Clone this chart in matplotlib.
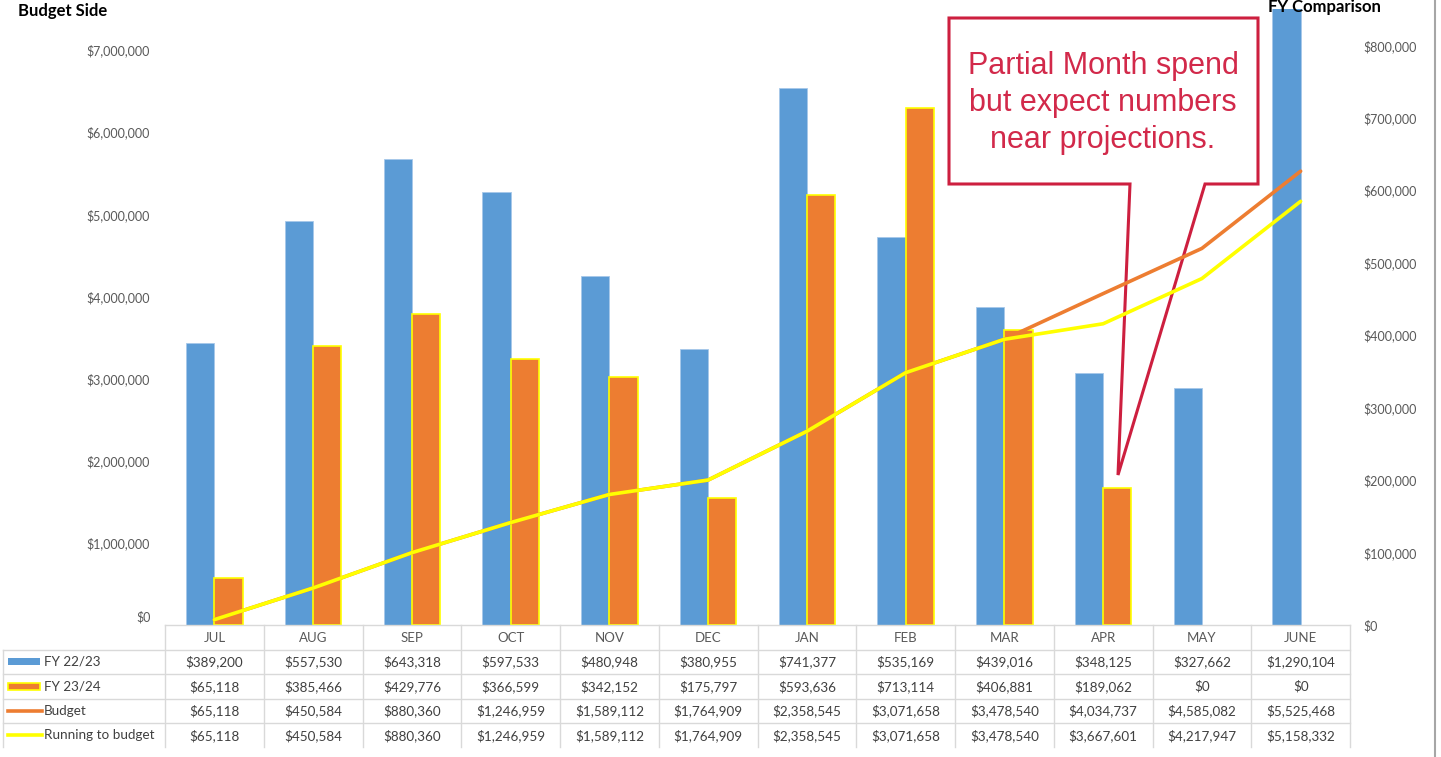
import matplotlib
matplotlib.use("Agg")
import matplotlib.pyplot as plt
from matplotlib.patches import Rectangle, Polygon
from matplotlib.lines import Line2D
from matplotlib.ticker import FuncFormatter

# ---------------- data ----------------
months = ["JUL", "AUG", "SEP", "OCT", "NOV", "DEC", "JAN", "FEB", "MAR", "APR", "MAY", "JUNE"]
fy2223 = [389200, 557530, 643318, 597533, 480948, 380955, 741377, 535169, 439016, 348125, 327662, 1290104]
fy2324 = [65118, 385466, 429776, 366599, 342152, 175797, 593636, 713114, 406881, 189062, 0, 0]
budget = [65118, 450584, 880360, 1246959, 1589112, 1764909, 2358545, 3071658, 3478540, 4034737, 4585082, 5525468]
running = [65118, 450584, 880360, 1246959, 1589112, 1764909, 2358545, 3071658, 3478540, 3667601, 4217947, 5158332]
series_names = ["FY 22/23", "FY 23/24", "Budget", "Running to budget"]
left_ticks = [1000000, 2000000, 3000000, 4000000, 5000000, 6000000, 7000000]
right_ticks = [0, 100000, 200000, 300000, 400000, 500000, 600000, 700000, 800000]
callout_text = "Partial Month spend\nbut expect numbers\nnear projections."

BLUE = "#5B9BD5"
ORANGE = "#ED7D31"
YELLOW = "#FFFF00"
GRID = "#D9D9D9"
TICK = "#595959"
TXT = "#404040"
RED = "#CD1F3F"

plt.rcParams["font.family"] = ["Lato", "DejaVu Sans"]

W, H = 1441, 757
fig = plt.figure(figsize=(W / 100, H / 100), dpi=100)

# plot area in pixels
PL, PR, PT, PB = 165, 1350, 9, 625
ax = fig.add_axes([PL / W, (H - PB) / H, (PR - PL) / W, (PB - PT) / H])
ax2 = ax.twinx()

n = len(months)
x = list(range(n))
bw = 0.285

# bars on the right axis
ax2.bar([i - bw / 2 for i in x], fy2223, width=bw, color=BLUE, edgecolor="#A7C8EA", linewidth=0.6, zorder=2)
ax2.bar([i + bw / 2 for i in x], fy2324, width=bw, color=ORANGE, edgecolor=YELLOW,
        linewidth=[1.2 if v > 0 else 0 for v in fy2324], zorder=2)
ax2.set_ylim(0, 850000)
ax2.set_yticks(right_ticks)
ax2.yaxis.set_major_formatter(FuncFormatter(lambda v, p: f"${v:,.0f}"))
ax2.tick_params(axis="y", length=0, pad=9.5, labelsize=9, labelcolor=TICK)

# lines on the left axis
ax.set_zorder(ax2.get_zorder() + 1)
ax.patch.set_visible(False)
ax.plot(x, budget, color=ORANGE, lw=2.6, solid_capstyle="round", zorder=3)
ax.plot(x, running, color=YELLOW, lw=2.6, solid_capstyle="round", zorder=4)
ax.set_ylim(0, 7500000)
ax.set_yticks(left_ticks)
ax.yaxis.set_major_formatter(FuncFormatter(lambda v, p: f"${v:,.0f}"))
ax.tick_params(axis="y", length=0, pad=11, labelsize=9, labelcolor=TICK)
ax.set_xlim(-0.5, n - 0.5)
for a in (ax, ax2):
    for s in a.spines.values():
        s.set_visible(False)
    a.set_xticks([])

# left "$0" label (Excel nudges it upward)
fig.text(151 / W, 1 - 617 / H, "$0", ha="right", va="center", fontsize=9, color=TICK)

# axis titles
fig.text(18 / W, 1 - 11 / H, "Budget Side", ha="left", va="center", fontsize=12,
         fontweight="bold", color="black")
fig.text(1268 / W, 1 - 7 / H, "FY Comparison", ha="left", va="center", fontsize=12,
         fontweight="bold", color="black")

# ---------------- data table ----------------
TB = 757
tab = fig.add_axes([PL / W, 0, (PR - PL) / W, (TB - PB) / H])
tab.set_xlim(-0.5, n - 0.5)
tab.set_ylim(TB - PB, 0)
tab.axis("off")
colw = (PR - PL) / n


def px2x(px):
    return -0.5 + (px - PL) / colw


row_h = 24.5
nrows = 4
bottom = row_h * (nrows + 1) - 0.5
lab_left = px2x(3)
# vertical lines
for k in range(n + 1):
    tab.add_line(Line2D([k - 0.5, k - 0.5], [0, bottom], color=GRID, lw=1.0, clip_on=False))
tab.add_line(Line2D([lab_left, lab_left], [row_h, bottom], color=GRID, lw=1.0, clip_on=False))
# horizontal lines
tab.add_line(Line2D([-0.5, n - 0.5], [0, 0], color=GRID, lw=1.0, clip_on=False))
for r in range(1, nrows + 1):
    tab.add_line(Line2D([lab_left, n - 0.5], [r * row_h, r * row_h], color=GRID, lw=1.0, clip_on=False))

for i, m in enumerate(months):
    tab.text(i, row_h / 2 + 0.5, m, ha="center", va="center", fontsize=9.5, color=TICK)


def money(v):
    return f"${v:,.0f}"


rows = [fy2223, fy2324, budget, running]
for r, vals in enumerate(rows):
    yc = row_h * (r + 1) + row_h / 2
    for i, v in enumerate(vals):
        tab.text(i, yc, money(v), ha="center", va="center", fontsize=9.7, color=TXT)
    # legend key + label
    tab.text(px2x(44), yc, series_names[r], ha="left", va="center", fontsize=9.7, color=TXT, clip_on=False)

kx0, kx1 = px2x(8), px2x(40)
y1 = row_h * 1 + row_h / 2
tab.add_patch(Rectangle((kx0, y1 - 3.5), kx1 - kx0, 7, facecolor=BLUE, edgecolor="none", clip_on=False))
y2 = row_h * 2 + row_h / 2
tab.add_patch(Rectangle((kx0, y2 - 3.5), kx1 - kx0, 7, facecolor=ORANGE, edgecolor=YELLOW, lw=1.2, clip_on=False))
y3 = row_h * 3 + row_h / 2
tab.add_line(Line2D([kx0, px2x(42)], [y3, y3], color=ORANGE, lw=2.6, clip_on=False))
y4 = row_h * 4 + row_h / 2
tab.add_line(Line2D([kx0, px2x(42)], [y4, y4], color=YELLOW, lw=2.6, clip_on=False))

# ---------------- callout ----------------
ov = fig.add_axes([0, 0, 1, 1])
ov.set_xlim(0, W)
ov.set_ylim(H, 0)
ov.axis("off")
ov.patch.set_visible(False)
poly = [(949, 18), (1258, 18), (1258, 184), (1205, 184), (1118, 475), (1130, 184), (949, 184)]
ov.add_patch(Polygon(poly, closed=True, fill=False, edgecolor=RED, lw=2.2, joinstyle="miter"))
ov.text(1103, 103, callout_text, ha="center", va="center", fontsize=22, color="#D2294A",
        family=["Liberation Sans", "DejaVu Sans"], linespacing=1.29)

# screenshot border at right
ov.add_line(Line2D([1435, 1435], [0, H], color="#A6A6A6", lw=1.5))

fig.savefig("out.png", dpi=100, facecolor="white")
